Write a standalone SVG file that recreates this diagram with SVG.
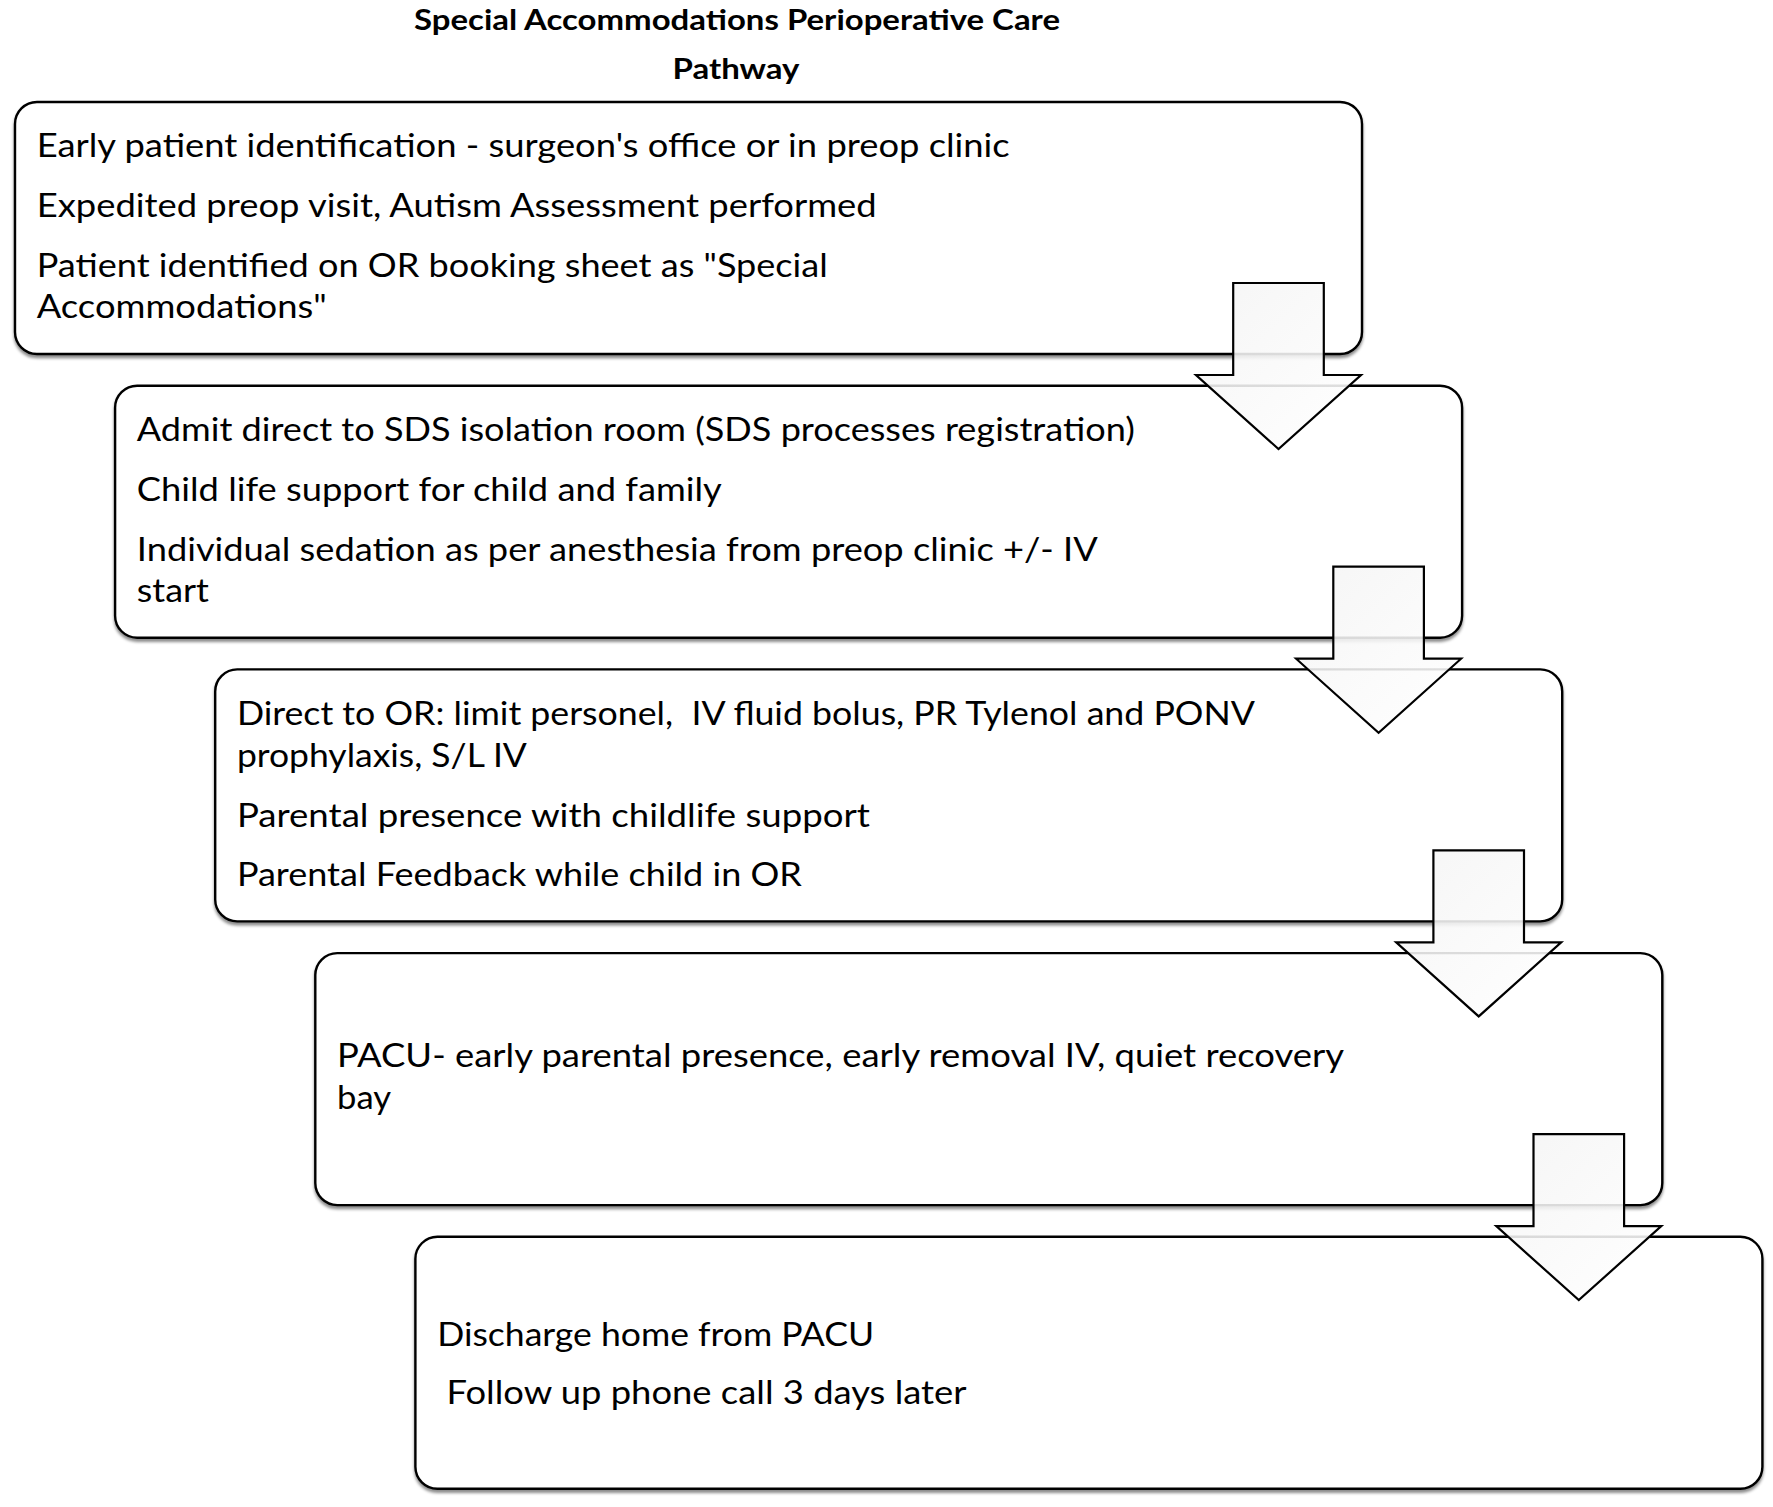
<svg xmlns="http://www.w3.org/2000/svg" width="1773" height="1507" viewBox="0 0 1773 1507">
<defs>
<filter id="shadow" x="-5%" y="-5%" width="110%" height="115%">
<feDropShadow dx="0" dy="3" stdDeviation="1.6" flood-color="#000" flood-opacity="0.45"/>
</filter>
<linearGradient id="arrowFill" x1="0" y1="0" x2="1" y2="1">
<stop offset="0" stop-color="#f4f4f4"/>
<stop offset="1" stop-color="#ffffff"/>
</linearGradient>
</defs>
<style>
.box{fill:#fff;stroke:#000;stroke-width:2.4;filter:url(#shadow)}
.t{font-family:Lato,"Open Sans","Liberation Sans",sans-serif;font-size:32px;fill:#000}
.title{font-family:Lato,"Open Sans","Liberation Sans",sans-serif;font-size:28px;font-weight:bold;fill:#000}
.arrow{fill:url(#arrowFill);fill-opacity:0.88;stroke:#000;stroke-width:2.2;stroke-linejoin:miter}
</style>
<rect width="1773" height="1507" fill="#fff"/>
<g id="title">
<text class="title" x="737" y="29.5" text-anchor="middle" textLength="646" lengthAdjust="spacingAndGlyphs">Special Accommodations Perioperative Care</text>
<text class="title" x="736" y="79" text-anchor="middle" textLength="127" lengthAdjust="spacingAndGlyphs">Pathway</text>
</g>
<g id="node1">
<rect class="box" x="15" y="102" width="1347" height="252" rx="22"/>
<text class="t" x="36.7" y="157" textLength="973" lengthAdjust="spacingAndGlyphs">Early patient identification - surgeon's office or in preop clinic</text>
<text class="t" x="36.7" y="217" textLength="840" lengthAdjust="spacingAndGlyphs">Expedited preop visit, Autism Assessment performed</text>
<text class="t" x="36.7" y="277" textLength="791" lengthAdjust="spacingAndGlyphs">Patient identified on OR booking sheet as "Special</text>
<text class="t" x="36.7" y="318" textLength="290" lengthAdjust="spacingAndGlyphs">Accommodations"</text>
</g>
<g id="node2">
<rect class="box" x="115.1" y="385.7" width="1347" height="252" rx="22"/>
<text class="t" x="136.8" y="441" textLength="998" lengthAdjust="spacingAndGlyphs">Admit direct to SDS isolation room (SDS processes registration)</text>
<text class="t" x="136.8" y="501" textLength="585" lengthAdjust="spacingAndGlyphs">Child life support for child and family</text>
<text class="t" x="136.8" y="561" textLength="961" lengthAdjust="spacingAndGlyphs">Individual sedation as per anesthesia from preop clinic +/- IV</text>
<text class="t" x="136.8" y="602" textLength="72" lengthAdjust="spacingAndGlyphs">start</text>
</g>
<g id="node3">
<rect class="box" x="215.2" y="669.4" width="1347" height="252" rx="22"/>
<text class="t" x="236.9" y="725" textLength="1018" lengthAdjust="spacingAndGlyphs" xml:space="preserve" style="white-space:pre">Direct to OR: limit personel,  IV fluid bolus, PR Tylenol and PONV</text>
<text class="t" x="236.9" y="767" textLength="290" lengthAdjust="spacingAndGlyphs">prophylaxis, S/L IV</text>
<text class="t" x="236.9" y="826.5" textLength="633" lengthAdjust="spacingAndGlyphs">Parental presence with childlife support</text>
<text class="t" x="236.9" y="885.5" textLength="565" lengthAdjust="spacingAndGlyphs">Parental Feedback while child in OR</text>
</g>
<g id="node4">
<rect class="box" x="315.3" y="953.1" width="1347" height="252" rx="22"/>
<text class="t" x="337" y="1067" textLength="1007" lengthAdjust="spacingAndGlyphs">PACU- early parental presence, early removal IV, quiet recovery</text>
<text class="t" x="337" y="1109" textLength="54" lengthAdjust="spacingAndGlyphs">bay</text>
</g>
<g id="node5">
<rect class="box" x="415.4" y="1236.8" width="1347" height="252" rx="22"/>
<text class="t" x="437.2" y="1346" textLength="437" lengthAdjust="spacingAndGlyphs">Discharge home from PACU</text>
<text class="t" x="446.5" y="1404" textLength="520" lengthAdjust="spacingAndGlyphs">Follow up phone call 3 days later</text>
</g>
<g id="connectors">
<path class="arrow" d="M1233.2,283 H1323.8 V375 H1361 L1278.5,449 L1196,375 H1233.2 Z"/>
<path class="arrow" d="M1333.3,566.7 H1423.9 V658.7 H1461.1 L1378.6,732.7 L1296.1,658.7 H1333.3 Z"/>
<path class="arrow" d="M1433.4,850.4 H1524 V942.4 H1561.2 L1478.7,1016.4 L1396.2,942.4 H1433.4 Z"/>
<path class="arrow" d="M1533.5,1134.1 H1624.1 V1226.1 H1661.3 L1578.8,1300.1 L1496.3,1226.1 H1533.5 Z"/>
</g>
</svg>
